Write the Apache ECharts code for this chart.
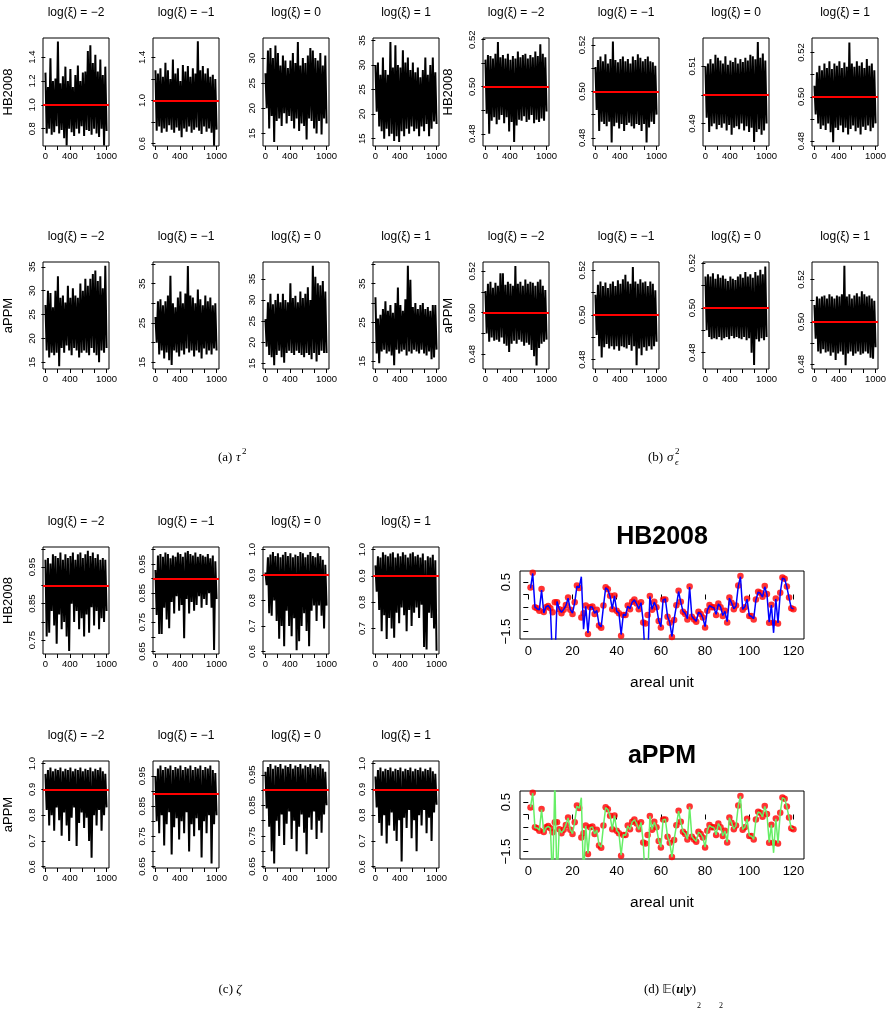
<!DOCTYPE html>
<html>
<head>
<meta charset="utf-8">
<script src="https://cdn.jsdelivr.net/npm/echarts@6/dist/echarts.min.js"></script>
<style>
  html, body { margin: 0; background: #fff; }
  #chart { width: 888px; height: 1012px; }
</style>
</head>
<body>
<div id="chart"></div>
<script>
const FONT = '"Liberation Sans", Arial, sans-serif'
const SERIF = '"Liberation Serif", "Times New Roman", serif'

// titles / ticks
const xiTitles = ['log(ξ) = −2', 'log(ξ) = −1', 'log(ξ) = 0', 'log(ξ) = 1']
const iterTicks = [0, 200, 400, 600, 800, 1000]
const iterLabels = [0, 400, 1000]
const unitTicks = [0, 20, 40, 60, 80, 100, 120]
const uTicks = [-1.5, -1, -0.5, 0, 0.5]
const uLabels = [-1.5, 0.5]

// trace plots (a) tau^2, HB2008 -- thinned (upper / lower swings)
const tauHB_m2 = [1.27,0.76,1.15,0.80,1.39,0.75,1.20,0.77,1.22,0.82,1.53,0.76,1.18,0.79,1.24,0.72,1.32,0.66,1.20,0.80,1.30,0.77,1.15,0.74,1.25,0.80,1.33,0.76,1.20,0.82,1.27,0.74,1.28,0.79,1.45,0.78,1.50,0.75,1.35,0.80,1.42,0.76,1.28,0.73,1.38,0.80,1.25,0.66,1.32,0.78]
const tauHB_m1 = [1.28,0.72,1.25,0.76,1.30,0.70,1.22,0.74,1.35,0.71,1.28,0.77,1.20,0.73,1.38,0.70,1.25,0.75,1.30,0.72,1.18,0.66,1.33,0.74,1.27,0.71,1.32,0.76,1.22,0.70,1.30,0.73,1.25,0.75,1.55,0.72,1.28,0.69,1.32,0.76,1.25,0.71,1.30,0.74,1.22,0.70,1.24,0.58,1.20,0.73]
const tauHB_0 = [27.0,20.0,31.5,16.0,32.0,18.5,30.0,13.3,32.5,17.5,31.0,18.0,28.5,16.5,30.5,19.0,29.5,17.0,28.0,18.5,29.5,17.5,31.0,16.0,29.0,18.0,33.2,15.5,28.5,17.0,30.0,16.5,29.0,13.8,30.5,18.0,32.0,17.5,31.5,16.0,30.0,15.0,29.5,17.5,31.0,14.8,28.5,18.0,30.5,17.0]
const tauHB_1 = [30.0,20.5,30.5,17.5,28.0,16.5,31.5,15.0,29.0,17.0,28.0,15.5,34.7,16.0,29.5,14.5,34.0,15.5,30.0,14.3,29.5,16.5,33.0,15.5,30.5,17.0,31.5,16.0,29.0,17.5,30.5,16.5,28.5,17.0,29.5,15.5,27.5,17.5,29.0,16.5,31.5,18.0,28.0,15.5,30.0,17.0,31.5,18.5,28.5,18.0]

// (b) sigma_eps^2, HB2008
const sigHB_m2 = [0.5115,0.4885,0.5135,0.4800,0.5130,0.4855,0.5120,0.4870,0.5140,0.4840,0.5190,0.4860,0.5125,0.4880,0.5135,0.4845,0.5120,0.4870,0.5140,0.4810,0.5115,0.4850,0.5130,0.4765,0.5120,0.4835,0.5150,0.4860,0.5125,0.4855,0.5135,0.4875,0.5140,0.4850,0.5120,0.4860,0.5135,0.4880,0.5125,0.4845,0.5150,0.4860,0.5130,0.4850,0.5180,0.4865,0.5140,0.4855,0.5125,0.4895]
const sigHB_m1 = [0.5105,0.4920,0.5135,0.4830,0.5150,0.4870,0.5130,0.4860,0.5160,0.4850,0.5120,0.4870,0.5140,0.4780,0.5215,0.4850,0.5135,0.4865,0.5125,0.4840,0.5140,0.4860,0.5150,0.4830,0.5130,0.4855,0.5140,0.4865,0.5120,0.4850,0.5150,0.4840,0.5135,0.4860,0.5160,0.4855,0.5145,0.4830,0.5130,0.4860,0.5140,0.4780,0.5150,0.4845,0.5130,0.4870,0.5125,0.4860,0.5110,0.4900]
const sigHB_0 = [0.5100,0.4920,0.5110,0.4870,0.5125,0.4890,0.5110,0.4900,0.5140,0.4880,0.5130,0.4895,0.5120,0.4885,0.5110,0.4900,0.5135,0.4875,0.5105,0.4895,0.5120,0.4860,0.5115,0.4885,0.5130,0.4890,0.5110,0.4880,0.5125,0.4900,0.5115,0.4875,0.5130,0.4890,0.5120,0.4870,0.5140,0.4885,0.5135,0.4835,0.5125,0.4870,0.5185,0.4880,0.5130,0.4860,0.5145,0.4875,0.5120,0.4900]
const sigHB_1 = [0.5050,0.4920,0.5110,0.4880,0.5140,0.4855,0.5120,0.4870,0.5150,0.4850,0.5130,0.4880,0.5160,0.4840,0.5125,0.4795,0.5150,0.4860,0.5140,0.4850,0.5160,0.4870,0.5130,0.4840,0.5155,0.4860,0.5135,0.4830,0.5245,0.4855,0.5150,0.4870,0.5135,0.4845,0.5160,0.4860,0.5140,0.4830,0.5155,0.4865,0.5130,0.4850,0.5170,0.4870,0.5140,0.4845,0.5150,0.4860,0.5120,0.4880]

// (a) tau^2, aPPM
const tauAP_m2 = [27.0,17.5,30.0,16.0,29.5,17.0,26.5,16.5,30.0,17.0,33.0,14.2,28.5,18.0,29.0,17.0,27.5,18.5,31.0,17.5,28.5,16.5,30.5,18.0,29.0,17.5,28.5,16.0,31.5,17.0,30.0,17.5,32.5,17.0,31.0,16.5,32.5,18.0,33.5,17.0,34.2,16.5,32.0,15.0,33.0,17.5,30.5,17.0,35.2,18.0]
const tauAP_m1 = [26.5,20.0,30.5,17.0,31.0,18.0,29.5,16.0,30.5,17.5,32.0,15.5,37.0,14.3,30.0,18.0,29.0,17.5,31.5,16.5,33.0,18.0,30.0,17.0,32.5,18.5,39.5,17.5,32.0,18.0,31.5,16.5,30.0,18.0,33.5,17.5,31.0,16.0,29.5,18.5,32.0,17.0,30.5,18.0,31.5,17.0,29.5,18.5,30.0,18.0]
const tauAP_0 = [25.5,19.0,29.5,17.0,31.5,16.5,29.0,14.6,30.0,17.0,31.5,18.0,29.5,16.5,31.5,15.2,30.0,17.5,29.5,18.0,34.0,17.5,30.5,17.0,31.0,18.0,29.5,17.5,32.0,17.0,30.5,16.5,31.5,17.5,33.0,17.0,30.0,16.0,38.1,17.5,35.5,15.5,34.0,17.0,33.5,18.0,34.5,17.5,32.0,17.5]
const tauAP_1 = [31.5,17.0,26.0,14.5,27.0,17.5,28.5,18.0,30.5,17.0,28.0,17.5,29.5,16.5,27.5,14.0,30.0,18.0,34.0,17.0,29.5,17.5,28.0,18.0,31.0,16.5,39.6,17.5,36.0,17.0,29.0,18.0,30.0,17.5,28.5,17.0,29.5,18.0,30.0,17.0,28.5,16.5,29.0,17.5,28.0,15.5,29.5,16.0,29.5,18.0]

// (b) sigma_eps^2, aPPM
const sigAP_m2 = [0.5105,0.4900,0.5140,0.4860,0.5150,0.4880,0.5120,0.4865,0.5145,0.4870,0.5130,0.4860,0.5190,0.4880,0.5190,0.4850,0.5135,0.4840,0.5150,0.4810,0.5140,0.4850,0.5130,0.4865,0.5225,0.4850,0.5140,0.4870,0.5150,0.4860,0.5130,0.4840,0.5160,0.4855,0.5140,0.4845,0.5150,0.4820,0.5145,0.4790,0.5130,0.4745,0.5150,0.4830,0.5160,0.4850,0.5130,0.4860,0.5110,0.4870]
const sigAP_m1 = [0.5090,0.4910,0.5135,0.4860,0.5150,0.4810,0.5130,0.4855,0.5145,0.4870,0.5120,0.4850,0.5140,0.4860,0.5150,0.4845,0.5130,0.4860,0.5155,0.4840,0.5140,0.4860,0.5160,0.4855,0.5180,0.4850,0.5150,0.4865,0.5140,0.4840,0.5215,0.4860,0.5150,0.4775,0.5140,0.4850,0.5160,0.4820,0.5145,0.4855,0.5150,0.4840,0.5130,0.4860,0.5150,0.4845,0.5140,0.4860,0.5110,0.4880]
const sigAP_0 = [0.5140,0.4900,0.5150,0.4870,0.5140,0.4860,0.5155,0.4865,0.5130,0.4860,0.5150,0.4870,0.5135,0.4855,0.5145,0.4865,0.5130,0.4870,0.5120,0.4860,0.5140,0.4875,0.5130,0.4865,0.5125,0.4870,0.5140,0.4865,0.5150,0.4860,0.5135,0.4870,0.5160,0.4855,0.5140,0.4865,0.5150,0.4800,0.5135,0.4745,0.5160,0.4860,0.5145,0.4850,0.5170,0.4865,0.5150,0.4855,0.5185,0.4870]
const sigAP_1 = [0.5080,0.4920,0.5120,0.4860,0.5110,0.4850,0.5120,0.4870,0.5125,0.4855,0.5110,0.4860,0.5130,0.4840,0.5120,0.4855,0.5110,0.4820,0.5125,0.4850,0.5120,0.4860,0.5130,0.4845,0.5265,0.4795,0.5120,0.4850,0.5130,0.4860,0.5110,0.4840,0.5125,0.4850,0.5135,0.4860,0.5120,0.4845,0.5145,0.4850,0.5130,0.4860,0.5120,0.4850,0.5125,0.4830,0.5110,0.4825,0.5100,0.4880]

// (c) zeta, HB2008
const zetaHB_m2 = [0.970,0.760,0.975,0.770,0.960,0.830,0.985,0.790,0.980,0.740,0.975,0.820,0.990,0.780,0.970,0.800,0.985,0.760,0.975,0.720,0.980,0.850,0.990,0.800,0.970,0.830,0.985,0.780,0.990,0.810,0.975,0.760,0.985,0.820,0.995,0.770,0.980,0.840,0.990,0.790,0.975,0.830,0.985,0.780,0.970,0.810,0.975,0.800,0.970,0.830]
const zetaHB_m1 = [0.930,0.775,0.980,0.710,0.985,0.710,0.975,0.800,0.990,0.760,0.985,0.730,0.970,0.820,0.980,0.780,0.975,0.840,0.990,0.790,0.985,0.810,0.975,0.695,0.990,0.830,0.995,0.780,0.985,0.820,0.980,0.790,0.990,0.810,0.975,0.840,0.985,0.800,0.980,0.830,0.975,0.810,0.985,0.850,0.970,0.800,0.980,0.655,0.960,0.830]
const zetaHB_0 = [0.910,0.860,0.970,0.750,0.980,0.740,0.990,0.800,0.975,0.720,0.985,0.650,0.970,0.700,0.980,0.620,0.990,0.760,0.975,0.700,0.985,0.660,0.970,0.730,0.980,0.605,0.975,0.640,0.990,0.700,0.985,0.750,0.970,0.680,0.980,0.620,0.990,0.760,0.975,0.780,0.970,0.720,0.985,0.780,0.975,0.740,0.960,0.690,0.940,0.780]
const zetaHB_1 = [0.940,0.840,0.975,0.770,0.970,0.690,0.990,0.750,0.980,0.660,0.975,0.740,0.985,0.700,0.990,0.665,0.970,0.760,0.985,0.720,0.975,0.780,0.990,0.750,0.980,0.690,0.970,0.770,0.985,0.710,0.990,0.760,0.975,0.780,0.980,0.740,0.970,0.790,0.985,0.630,0.960,0.620,0.975,0.760,0.970,0.740,0.980,0.700,0.960,0.615]

// (c) zeta, aPPM
const zetaAP_m2 = [0.960,0.820,0.975,0.760,0.985,0.800,0.970,0.740,0.980,0.830,0.975,0.780,0.985,0.720,0.970,0.810,0.980,0.760,0.975,0.700,0.985,0.790,0.970,0.830,0.980,0.680,0.975,0.770,0.985,0.810,0.970,0.750,0.980,0.790,0.975,0.700,0.985,0.635,0.970,0.800,0.980,0.760,0.975,0.820,0.985,0.740,0.970,0.800,0.960,0.830]
const zetaAP_m1 = [0.950,0.800,0.975,0.760,0.985,0.820,0.970,0.720,0.980,0.790,0.975,0.830,0.985,0.690,0.970,0.780,0.980,0.810,0.975,0.740,0.985,0.800,0.970,0.760,0.980,0.830,0.975,0.700,0.985,0.790,0.970,0.750,0.980,0.810,0.975,0.770,0.985,0.680,0.970,0.800,0.980,0.760,0.975,0.820,0.985,0.660,0.970,0.790,0.960,0.820]
const zetaAP_0 = [0.960,0.840,0.975,0.780,0.985,0.700,0.970,0.660,0.980,0.800,0.975,0.750,0.985,0.820,0.970,0.720,0.980,0.790,0.975,0.830,0.985,0.740,0.970,0.800,0.980,0.700,0.975,0.780,0.985,0.820,0.970,0.760,0.980,0.690,0.975,0.810,0.985,0.770,0.970,0.830,0.980,0.740,0.975,0.800,0.985,0.760,0.970,0.820,0.960,0.850]
const zetaAP_1 = [0.950,0.830,0.975,0.770,0.985,0.720,0.970,0.800,0.980,0.690,0.975,0.760,0.985,0.810,0.970,0.740,0.980,0.700,0.975,0.780,0.985,0.620,0.970,0.790,0.980,0.750,0.975,0.820,0.985,0.710,0.970,0.780,0.980,0.660,0.975,0.800,0.985,0.760,0.970,0.820,0.980,0.730,0.975,0.790,0.985,0.700,0.970,0.810,0.960,0.840]

// (d) E(u|y) per areal unit 1..120
const uTrue = [0.28,0.88,-0.52,-0.56,-0.66,0.22,-0.71,-0.52,-0.47,-0.56,
  -0.72,-0.31,-0.31,-0.60,-0.76,-0.62,-0.43,-0.12,-0.62,-0.79,
  -0.31,0.36,0.26,-0.93,-0.76,-0.45,-1.60,-0.52,-0.49,-0.79,
  -0.62,-1.25,-1.34,-0.45,0.29,0.21,-0.05,-0.60,-0.04,-0.66,
  -0.76,-1.67,-0.83,-0.83,-0.45,-0.60,-0.29,-0.20,-0.36,-0.60,
  -0.31,-1.13,-1.17,-0.83,-0.06,-0.62,-0.29,-0.52,-1.07,-1.33,
  -0.20,-0.20,-0.90,-1.14,-1.72,-1.03,-0.44,0.15,-0.29,-0.70,
  -0.79,-1.01,0.32,-0.90,-1.01,-1.10,-0.70,-0.79,-0.93,-1.33,
  -0.66,-0.43,-0.52,-0.52,-0.83,-0.36,-0.52,-0.87,-0.66,-1.13,
  -0.12,-0.33,-0.60,-0.45,0.36,0.75,-0.62,-0.52,-0.17,-0.87,
  -0.87,-1.01,-0.20,0.11,0.07,-0.09,0.34,0.02,-1.14,-0.41,
  -1.14,-0.16,-1.17,0.07,0.69,0.64,0.32,-0.12,-0.56,-0.60]
const uHB = [0.25,0.85,-0.50,-0.58,-0.62,0.18,-0.75,-0.50,-0.45,-0.58,
  -2.80,-2.80,-0.28,-0.58,-0.72,-0.60,-0.45,-0.15,-0.60,-0.75,
  -0.33,0.33,0.28,0.72,-1.40,-0.48,-1.55,-0.50,-0.52,-0.76,
  -0.65,-1.22,-1.30,-0.48,0.27,0.19,-0.08,-0.58,-0.06,-0.68,
  -0.74,-1.62,-0.80,-0.85,-0.47,-0.58,-0.31,-0.22,-0.38,-0.58,
  -0.33,-1.10,-2.80,-2.80,-0.08,-0.60,-0.31,-0.50,-1.05,-1.30,
  -0.22,-0.18,-0.88,-1.12,-1.70,-1.00,-0.46,0.12,-0.31,-0.68,
  -0.77,-0.98,0.30,-0.88,-0.99,-1.08,-0.72,-0.77,-0.95,-1.30,
  -0.64,-0.45,-0.50,-0.54,-0.80,-0.38,-0.50,-0.85,-0.68,-1.10,
  -0.14,-0.35,-0.58,-0.47,0.33,0.72,-0.60,-0.50,-0.19,-0.85,
  -0.89,-0.98,-0.22,0.09,0.05,-0.11,0.31,0.00,-1.12,-0.43,
  -1.55,-0.18,-1.15,0.05,0.66,0.62,0.30,-0.14,-0.54,-0.58]
const uAP = [0.30,0.86,-0.54,-0.55,-0.64,0.20,-0.73,-0.54,-0.48,-0.55,
  -2.80,1.30,-2.80,-0.58,-0.74,-0.63,-0.42,-0.14,-0.61,-0.77,
  -0.30,0.34,0.25,0.68,-2.60,-0.47,-1.58,-0.53,-0.50,-0.78,
  -0.63,-1.23,-1.32,-0.46,0.28,0.20,-0.06,-0.61,-0.05,-0.65,
  -0.75,-1.65,-0.82,-0.84,-0.46,-0.61,-0.30,-0.21,-0.37,-0.61,
  -0.32,-1.12,-2.80,-2.80,-0.07,-0.61,-0.30,-0.53,-1.06,-1.32,
  -0.21,-0.19,-0.89,-1.13,-1.72,-1.02,-0.45,0.14,-0.30,-0.69,
  -0.78,-1.00,0.31,-0.89,-1.00,-1.09,-0.71,-0.78,-0.94,-1.32,
  -0.65,-0.44,-0.51,-0.53,-0.82,-0.37,-0.51,-0.86,-0.67,-1.12,
  -0.13,-0.34,-0.59,-0.46,0.35,0.74,-0.61,-0.51,-0.18,-0.86,
  -0.88,-1.00,-0.21,0.10,0.06,-0.10,0.33,0.01,-1.13,-0.42,
  -1.55,-0.17,-1.16,0.06,0.68,0.63,0.31,-0.13,-0.55,-0.59]

// panel layout
const colX = [43, 153, 263, 373, 483, 593, 703, 812]
const rows = [{ top: 38, h: 108 }, { top: 262, h: 107 }, { top: 547, h: 107 }, { top: 761, h: 107 }]
const PW = 66

const panels = [
  { d: tauHB_m2, row: 0, col: 0, min: 0.655, max: 1.56, ticks: [0.8, 1.0, 1.2, 1.4], labels: [0.8, 1.0, 1.2, 1.4], dec: 1, ref: 1.0, name: 'HB2008' },
  { d: tauHB_m1, row: 0, col: 1, min: 0.578, max: 1.58, ticks: [0.6, 0.8, 1.0, 1.2, 1.4], labels: [0.6, 1.0, 1.4], dec: 1, ref: 1.0 },
  { d: tauHB_0, row: 0, col: 2, min: 12.5, max: 34.0, ticks: [15, 20, 25, 30], labels: [15, 20, 25, 30], dec: 0 },
  { d: tauHB_1, row: 0, col: 3, min: 13.5, max: 35.5, ticks: [15, 20, 25, 30, 35], labels: [15, 20, 25, 30, 35], dec: 0 },
  { d: sigHB_m2, row: 0, col: 4, min: 0.4748, max: 0.5207, ticks: [0.48, 0.49, 0.50, 0.51, 0.52], labels: [0.48, 0.50, 0.52], dec: 2, ref: 0.5, name: 'HB2008' },
  { d: sigHB_m1, row: 0, col: 5, min: 0.4765, max: 0.523, ticks: [0.48, 0.49, 0.50, 0.51, 0.52], labels: [0.48, 0.50, 0.52], dec: 2, ref: 0.5 },
  { d: sigHB_0, row: 0, col: 6, min: 0.4821, max: 0.5199, ticks: [0.49, 0.50, 0.51], labels: [0.49, 0.51], dec: 2, ref: 0.5 },
  { d: sigHB_1, row: 0, col: 7, min: 0.4778, max: 0.5265, ticks: [0.48, 0.49, 0.50, 0.51, 0.52], labels: [0.48, 0.50, 0.52], dec: 2, ref: 0.5 },
  { d: tauAP_m2, row: 1, col: 0, min: 13.6, max: 36.0, ticks: [15, 20, 25, 30, 35], labels: [15, 20, 25, 30, 35], dec: 0, name: 'aPPM' },
  { d: tauAP_m1, row: 1, col: 1, min: 13.3, max: 40.5, ticks: [15, 20, 25, 30, 35, 40], labels: [15, 25, 35], dec: 0 },
  { d: tauAP_0, row: 1, col: 2, min: 13.7, max: 39.0, ticks: [15, 20, 25, 30, 35], labels: [15, 20, 25, 30, 35], dec: 0 },
  { d: tauAP_1, row: 1, col: 3, min: 13.0, max: 40.6, ticks: [15, 20, 25, 30, 35, 40], labels: [15, 25, 35], dec: 0 },
  { d: sigAP_m2, row: 1, col: 4, min: 0.4728, max: 0.5245, ticks: [0.48, 0.49, 0.50, 0.51, 0.52], labels: [0.48, 0.50, 0.52], dec: 2, ref: 0.5, name: 'aPPM' },
  { d: sigAP_m1, row: 1, col: 5, min: 0.4758, max: 0.5237, ticks: [0.48, 0.49, 0.50, 0.51, 0.52], labels: [0.48, 0.50, 0.52], dec: 2, ref: 0.5 },
  { d: sigAP_0, row: 1, col: 6, min: 0.4727, max: 0.5205, ticks: [0.48, 0.49, 0.50, 0.51, 0.52], labels: [0.48, 0.50, 0.52], dec: 2, ref: 0.5 },
  { d: sigAP_1, row: 1, col: 7, min: 0.4777, max: 0.5283, ticks: [0.48, 0.49, 0.50, 0.51, 0.52], labels: [0.48, 0.50, 0.52], dec: 2, ref: 0.5 },
  { d: zetaHB_m2, row: 2, col: 0, min: 0.712, max: 1.005, ticks: [0.75, 0.80, 0.85, 0.90, 0.95, 1.0], labels: [0.75, 0.85, 0.95], dec: 2, ref: 0.9, name: 'HB2008' },
  { d: zetaHB_m1, row: 2, col: 1, min: 0.641, max: 1.009, ticks: [0.65, 0.70, 0.75, 0.80, 0.85, 0.90, 0.95, 1.0], labels: [0.65, 0.75, 0.85, 0.95], dec: 2, ref: 0.9 },
  { d: zetaHB_0, row: 2, col: 2, min: 0.59, max: 1.01, ticks: [0.6, 0.7, 0.8, 0.9, 1.0], labels: [0.6, 0.7, 0.8, 0.9, 1.0], dec: 1, ref: 0.9 },
  { d: zetaHB_1, row: 2, col: 3, min: 0.603, max: 1.01, ticks: [0.7, 0.8, 0.9, 1.0], labels: [0.7, 0.8, 0.9, 1.0], dec: 1, ref: 0.9 },
  { d: zetaAP_m2, row: 3, col: 0, min: 0.595, max: 1.01, ticks: [0.6, 0.7, 0.8, 0.9, 1.0], labels: [0.6, 0.7, 0.8, 0.9, 1.0], dec: 1, ref: 0.9, name: 'aPPM' },
  { d: zetaAP_m1, row: 3, col: 1, min: 0.645, max: 1.0, ticks: [0.65, 0.70, 0.75, 0.80, 0.85, 0.90, 0.95], labels: [0.65, 0.75, 0.85, 0.95], dec: 2, ref: 0.89 },
  { d: zetaAP_0, row: 3, col: 2, min: 0.645, max: 0.995, ticks: [0.65, 0.70, 0.75, 0.80, 0.85, 0.90, 0.95], labels: [0.65, 0.75, 0.85, 0.95], dec: 2, ref: 0.9 },
  { d: zetaAP_1, row: 3, col: 3, min: 0.595, max: 1.01, ticks: [0.6, 0.7, 0.8, 0.9, 1.0], labels: [0.6, 0.7, 0.8, 0.9, 1.0], dec: 1, ref: 0.9 }
]

const fmt = (v, dec) => (v < 0 ? '\u2212' : '') + Math.abs(v).toFixed(dec)

const grids = [], xAxes = [], yAxes = [], series = [], graphics = []

panels.forEach((p, i) => {
  const left = colX[p.col]
  const r = rows[p.row]
  grids.push({ left, top: r.top, width: PW, height: r.h, show: true, borderColor: '#000', borderWidth: 1, outerBoundsMode: 'none' })
  xAxes.push({
    type: 'value', gridIndex: i, min: -39, max: 1040,
    axisLine: { show: false }, splitLine: { show: false },
    axisTick: { show: true, length: 4, customValues: iterTicks, lineStyle: { color: '#000' } },
    axisLabel: { customValues: iterLabels, fontSize: 9.5, color: '#000', margin: 5, fontFamily: FONT, formatter: v => String(v) }
  })
  yAxes.push({
    type: 'value', gridIndex: i, min: p.min, max: p.max,
    axisLine: { show: false }, splitLine: { show: false },
    axisTick: { show: true, length: 4, customValues: p.ticks.filter(v => v >= p.min && v <= p.max), lineStyle: { color: '#000' } },
    axisLabel: {
      customValues: p.labels.filter(v => v >= p.min && v <= p.max),
      rotate: 90, fontSize: 9.5, color: '#000', margin: 6, fontFamily: FONT,
      formatter: v => fmt(v, p.dec)
    },
    name: p.name || '', nameLocation: 'middle', nameGap: 28, nameRotate: 90,
    nameTextStyle: { fontSize: 13, color: '#000', fontFamily: FONT }
  })
  const n = p.d.length
  const s = {
    type: 'line', xAxisIndex: i, yAxisIndex: i,
    data: p.d.map((v, k) => [1 + k * 999 / (n - 1), v]),
    showSymbol: false, symbol: 'none',
    lineStyle: { color: '#000', width: 2.0 }
  }
  if (p.ref !== undefined) {
    s.markLine = {
      silent: true, symbol: ['none', 'none'], label: { show: false },
      lineStyle: { color: '#ff0000', width: 1.8, type: 'solid' },
      data: [{ yAxis: p.ref }]
    }
  }
  series.push(s)
  graphics.push({
    type: 'text', x: left + PW / 2, y: r.top - 25,
    style: { text: xiTitles[p.col % 4], fontSize: 12, fontFamily: FONT, fill: '#000', textAlign: 'center', textVerticalAlign: 'middle' }
  })
})

// (d) two profile plots
const uPlots = [
  { title: 'HB2008', est: uHB, color: '#0000ff', top: 571, titleY: 537 },
  { title: 'aPPM', est: uAP, color: '#66ee66', top: 791, titleY: 756 }
]
uPlots.forEach(q => {
  const gi = grids.length
  grids.push({ left: 520, top: q.top, width: 284, height: 68, show: true, borderColor: '#000', borderWidth: 1, outerBoundsMode: 'none' })
  xAxes.push({
    type: 'value', gridIndex: gi, min: -3.76, max: 124.76,
    axisLine: { show: false }, splitLine: { show: false },
    axisTick: { show: true, length: 5, customValues: unitTicks, lineStyle: { color: '#000' } },
    axisLabel: { customValues: unitTicks, fontSize: 13, color: '#000', margin: 6, fontFamily: FONT },
    name: 'areal unit', nameLocation: 'middle', nameGap: 36,
    nameTextStyle: { fontSize: 15.5, color: '#000', fontFamily: FONT }
  })
  yAxes.push({
    type: 'value', gridIndex: gi, min: -1.8, max: 0.95,
    axisLine: { show: false }, splitLine: { show: false },
    axisTick: { show: true, length: 5, customValues: uTicks, lineStyle: { color: '#000' } },
    axisLabel: { customValues: uLabels, rotate: 90, fontSize: 13, color: '#000', margin: 7, fontFamily: FONT, formatter: v => fmt(v, 1) }
  })
  series.push({
    type: 'scatter', xAxisIndex: gi, yAxisIndex: gi,
    data: uTrue.map((v, k) => [k + 1, v]),
    symbolSize: 6.5, itemStyle: { color: '#ff0000' }, z: 2
  })
  series.push({
    type: 'line', xAxisIndex: gi, yAxisIndex: gi,
    data: q.est.map((v, k) => [k + 1, v]),
    showSymbol: false, symbol: 'none',
    lineStyle: { color: q.color, width: 1.5 }, z: 3
  })
  graphics.push({
    type: 'text', x: 662, y: q.titleY,
    style: { text: q.title, fontSize: 25, fontWeight: 'bold', fontFamily: FONT, fill: '#000', textAlign: 'center', textVerticalAlign: 'middle' }
  })
})

// sub-figure captions
const cap = { fontSize: 13, fontFamily: SERIF, fill: '#000', textVerticalAlign: 'middle' }
graphics.push(
  { type: 'text', x: 218, y: 458, style: { ...cap, text: '(a) ', textAlign: 'left' } },
  { type: 'text', x: 236, y: 458, style: { ...cap, text: 'τ', fontStyle: 'italic', textAlign: 'left' } },
  { type: 'text', x: 242, y: 452, style: { ...cap, text: '2', fontSize: 9, textAlign: 'left' } },
  { type: 'text', x: 648, y: 458, style: { ...cap, text: '(b) ', textAlign: 'left' } },
  { type: 'text', x: 667, y: 458, style: { ...cap, text: 'σ', fontStyle: 'italic', textAlign: 'left' } },
  { type: 'text', x: 675, y: 452, style: { ...cap, text: '2', fontSize: 9, textAlign: 'left' } },
  { type: 'text', x: 675, y: 463, style: { ...cap, text: 'ϵ', fontSize: 9, fontStyle: 'italic', textAlign: 'left' } },
  { type: 'text', x: 230, y: 990, style: { ...cap, text: '(c) {i|ζ}', textAlign: 'center',
    rich: { i: { fontSize: 13, fontFamily: SERIF, fontStyle: 'italic' } } } },
  { type: 'text', x: 670, y: 990, style: { ...cap, text: '(d) {bb|𝔼}({b|u}|{b|y})', textAlign: 'center',
    rich: { bb: { fontSize: 13, fontFamily: '"DejaVu Sans", serif' }, b: { fontSize: 13, fontFamily: SERIF, fontStyle: 'italic', fontWeight: 'bold' } } } },
  { type: 'text', x: 697, y: 1006, style: { ...cap, text: '2', fontSize: 8 } },
  { type: 'text', x: 719, y: 1006, style: { ...cap, text: '2', fontSize: 8 } }
)

const chart = echarts.init(document.getElementById('chart'), null, { renderer: 'canvas' })
chart.setOption({
  animation: false,
  backgroundColor: '#fff',
  textStyle: { fontFamily: FONT },
  grid: grids,
  xAxis: xAxes,
  yAxis: yAxes,
  series,
  graphic: graphics
})
</script>
</body>
</html>
